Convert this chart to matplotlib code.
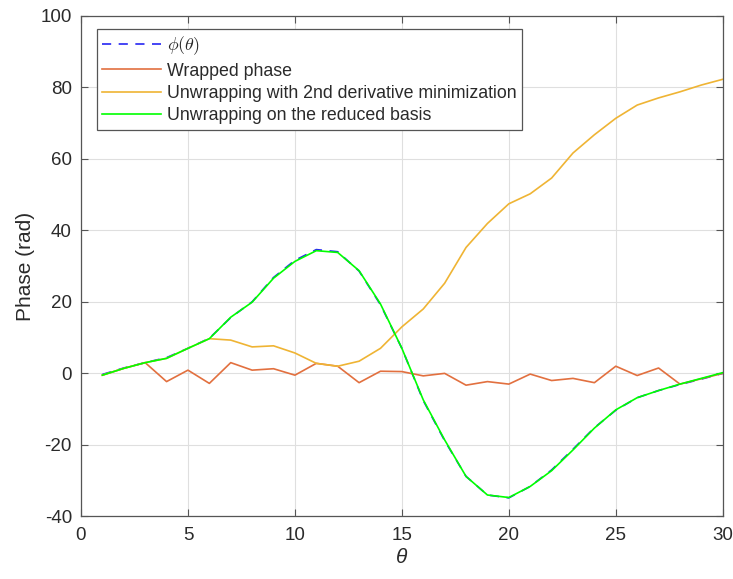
import numpy as np
import matplotlib
matplotlib.use("Agg")
import matplotlib.pyplot as plt

# theta samples
theta = np.arange(1, 31)

# true phase phi(theta)
phi = [-0.3, 1.5, 3.0, 4.4, 7.0, 9.8, 15.6, 20.0, 26.8, 31.6,
       34.6, 34.0, 28.6, 19.2, 7.0, -7.6, -18.8, -28.8, -34.0, -34.8,
       -31.6, -27.0, -21.2, -15.2, -10.3, -6.8, -4.8, -3.1, -1.6, 0.0]

# wrapped phase
wrapped = [-0.5, 1.4, 3.0, -2.3, 0.9, -2.8, 3.0, 0.9, 1.3, -0.5,
           2.8, 2.0, -2.6, 0.6, 0.5, -0.7, 0.0, -3.3, -2.3, -3.0,
           -0.2, -2.0, -1.4, -2.6, 2.0, -0.6, 1.5, -3.0, -1.5, 0.0]

# unwrapping with 2nd derivative minimization
unwrap_d2 = [-0.5, 1.4, 3.0, 4.2, 7.0, 9.7, 9.3, 7.4, 7.7, 5.7,
             2.8, 2.0, 3.4, 7.0, 13.0, 18.0, 25.2, 35.2, 41.9, 47.4,
             50.2, 54.6, 61.6, 66.7, 71.3, 75.0, 77.0, 78.7, 80.6, 82.2]

# unwrapping on the reduced basis
unwrap_rb = [-0.5, 1.4, 3.0, 4.2, 7.0, 9.7, 15.7, 19.9, 26.6, 31.3,
             34.3, 33.8, 28.7, 19.4, 7.0, -7.4, -18.6, -28.8, -34.0, -34.7,
             -31.6, -27.2, -21.4, -15.3, -10.2, -6.8, -4.8, -3.0, -1.4, 0.2]

plt.rcParams["font.family"] = ["Liberation Sans", "DejaVu Sans"]
plt.rcParams["mathtext.fontset"] = "cm"
plt.rcParams["axes.unicode_minus"] = False

axcol = "#555555"
txtcol = "#2a2a2a"

fig = plt.figure(figsize=(7.33, 5.79), dpi=100)
ax = fig.add_axes([0.1105, 0.108, 0.8755, 0.865])

ax.plot(theta, phi, "--", color="#2626F2", lw=1.2, dashes=(5.5, 4.5), label=r"$\phi(\theta)$")
ax.plot(theta, wrapped, color="#E2703F", lw=1.2, label="Wrapped phase")
ax.plot(theta, unwrap_d2, color="#EFB434", lw=1.2,
        label="Unwrapping with 2nd derivative minimization")
ax.plot(theta, unwrap_rb, color="#00FF00", lw=1.2, label="Unwrapping on the reduced basis")

ax.set_xlim(0, 30)
ax.set_ylim(-40, 100)
ax.set_xticks(np.arange(0, 31, 5))
ax.set_yticks(np.arange(-40, 101, 20))
ax.grid(True, color="#dfdfdf", lw=0.8)
ax.set_axisbelow(True)
ax.tick_params(direction="in", top=True, right=True, labelsize=13.5,
               color=axcol, labelcolor=txtcol, length=5, width=0.8)
ax.tick_params(axis="x", pad=7.5)
ax.tick_params(axis="y", pad=6.5)
for sp in ax.spines.values():
    sp.set_color(axcol)
    sp.set_linewidth(0.9)

ax.set_xlabel("θ", fontsize=15, style="italic", color=txtcol, labelpad=3)
ax.set_ylabel("Phase (rad)", fontsize=15, color=txtcol, labelpad=4)

leg = ax.legend(loc="upper left", bbox_to_anchor=(0.025, 0.973), fontsize=12.8,
                fancybox=False, framealpha=1, edgecolor=axcol,
                handlelength=3.3, handletextpad=0.35, borderpad=0.3,
                labelspacing=0.3, borderaxespad=0)
leg.get_frame().set_linewidth(0.9)
for t in leg.get_texts():
    t.set_color(txtcol)

fig.savefig("out.png", dpi=100)
